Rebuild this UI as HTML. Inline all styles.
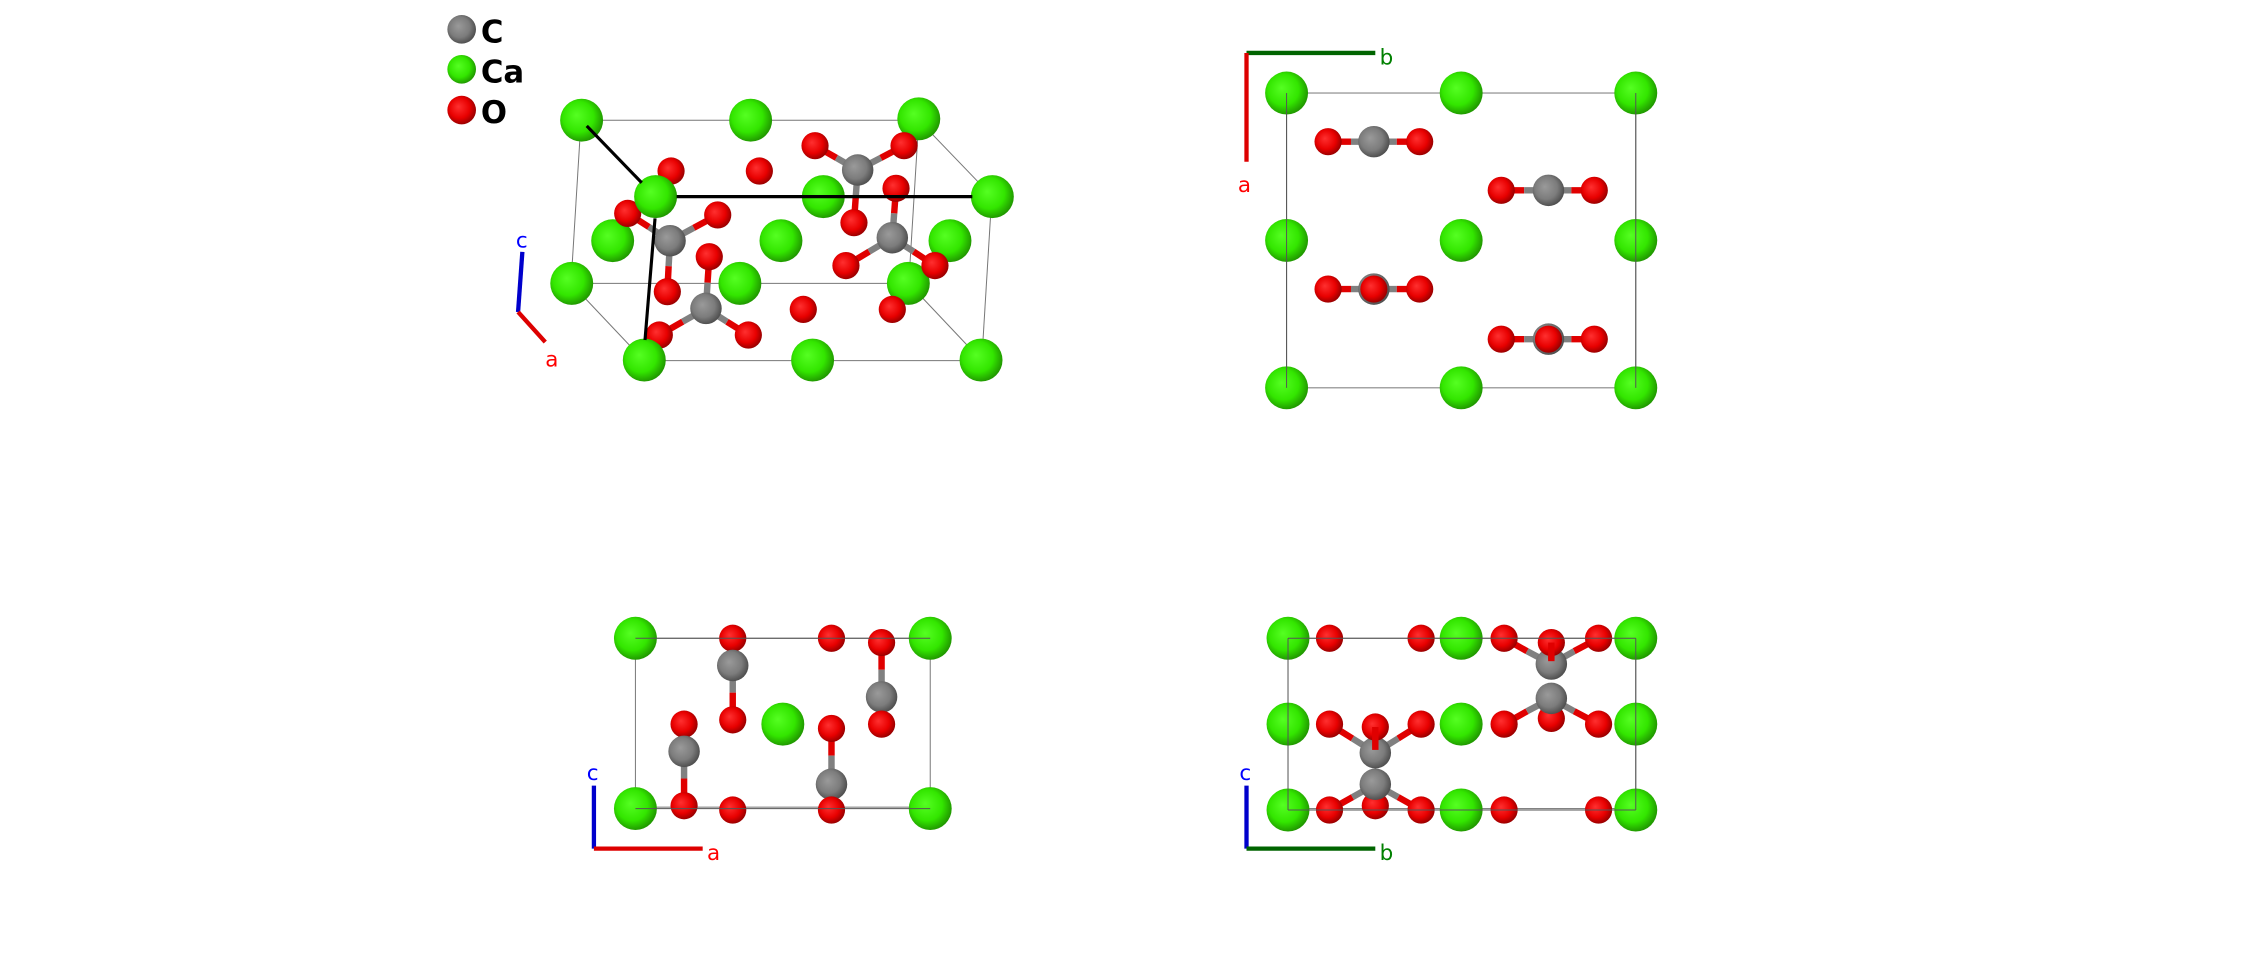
<!DOCTYPE html>
<html><head><meta charset="utf-8"><style>
html,body{margin:0;padding:0;background:#fff;}
svg{display:block;}
text{font-family:"DejaVu Sans","Liberation Sans",sans-serif;}
</style></head><body>
<svg width="2244" height="964" viewBox="0 0 1568 673.6" xmlns="http://www.w3.org/2000/svg">
<defs>
<radialGradient id="gCa" cx="45%" cy="45%" r="60%" fx="38%" fy="38%">
<stop offset="0" stop-color="#55ff22"/><stop offset="0.6" stop-color="#33e600"/><stop offset="1" stop-color="#1d8a00"/></radialGradient>
<radialGradient id="gO" cx="45%" cy="45%" r="60%" fx="38%" fy="38%">
<stop offset="0" stop-color="#ff3030"/><stop offset="0.6" stop-color="#e80000"/><stop offset="1" stop-color="#8a0000"/></radialGradient>
<radialGradient id="gC" cx="45%" cy="45%" r="60%" fx="38%" fy="38%">
<stop offset="0" stop-color="#9a9a9a"/><stop offset="0.6" stop-color="#7c7c7c"/><stop offset="1" stop-color="#464646"/></radialGradient>
</defs>
<style>
.ca{fill:url(#gCa);} .o{fill:url(#gO);} .c{fill:url(#gC);}
.cell{stroke:#777;stroke-width:0.7;fill:none;}
.bg{stroke:#808080;stroke-width:4.5;stroke-linecap:butt;}
.br{stroke:#e00000;stroke-width:4.5;stroke-linecap:butt;}
.blk{stroke:#000;stroke-width:2.2;}
</style>

<!-- Legend -->
<circle class="c" cx="322.6" cy="20.5" r="10"/>
<text x="336" y="29.8" font-size="21.5" font-weight="bold">C</text>
<circle class="ca" cx="322.6" cy="48.4" r="10"/>
<text x="336" y="57.8" font-size="21.5" font-weight="bold">Ca</text>
<circle class="o" cx="322.6" cy="76.9" r="10"/>
<text x="336" y="86" font-size="21.5" font-weight="bold">O</text>

<!-- Panel 1 -->
<g class="cell">
<line x1="406" y1="84" x2="642" y2="84"/>
<line x1="406" y1="84" x2="399" y2="198"/>
<line x1="642" y1="84" x2="635" y2="198"/>
<line x1="399" y1="198" x2="635" y2="198"/>
<line x1="458" y1="137" x2="693" y2="137"/>
<line x1="693" y1="137" x2="686" y2="252"/>
<line x1="450" y1="252" x2="686" y2="252"/>
<line x1="642" y1="84" x2="693" y2="137"/>
<line x1="399" y1="198" x2="450" y2="252"/>
<line x1="635" y1="198" x2="686" y2="252"/>
</g>
<circle class="ca" cx="406.4" cy="84" r="15"/>
<circle class="ca" cx="524.5" cy="84" r="15"/>
<circle class="ca" cx="642" cy="83" r="15"/>
<circle class="ca" cx="399.5" cy="198" r="15"/>
<circle class="ca" cx="517" cy="198" r="15"/>
<circle class="ca" cx="634.7" cy="198" r="15"/>
<circle class="ca" cx="428.1" cy="168.2" r="15"/>
<circle class="ca" cx="545.7" cy="168.2" r="15"/>
<circle class="ca" cx="663.8" cy="168.2" r="15"/>
<circle class="o" cx="468.9" cy="119.5" r="9.5"/>
<circle class="o" cx="530.6" cy="119.5" r="9.5"/>
<circle class="o" cx="561.3" cy="216.2" r="9.5"/>
<circle class="o" cx="623.5" cy="216.2" r="9.5"/>
<!-- carbonate 3 -->
<line class="bg" x1="599.3" y1="118.8" x2="584.4" y2="110.3"/><line class="br" x1="584.4" y1="110.3" x2="569.5" y2="101.8"/>
<line class="bg" x1="599.3" y1="118.8" x2="615.5" y2="110.3"/><line class="br" x1="615.5" y1="110.3" x2="631.7" y2="101.8"/>
<line class="bg" x1="599.3" y1="118.8" x2="598" y2="137"/><line class="br" x1="598" y1="137" x2="596.7" y2="155.6"/>
<circle class="o" cx="569.5" cy="101.8" r="9.5"/><circle class="o" cx="631.7" cy="101.8" r="9.5"/>
<circle class="o" cx="596.7" cy="155.6" r="9.5"/>
<circle class="c" cx="599.3" cy="118.8" r="11"/>
<!-- carbonate 4 -->
<line class="bg" x1="623.5" y1="166.1" x2="624.8" y2="149"/><line class="br" x1="624.8" y1="149" x2="626.1" y2="131.6"/>
<line class="bg" x1="623.5" y1="166.1" x2="607.3" y2="175.8"/><line class="br" x1="607.3" y1="175.8" x2="591.1" y2="185.6"/>
<line class="bg" x1="623.5" y1="166.1" x2="638.4" y2="175.8"/><line class="br" x1="638.4" y1="175.8" x2="653.3" y2="185.6"/>
<circle class="o" cx="626.1" cy="131.6" r="9.5"/>
<circle class="c" cx="623.5" cy="166.1" r="11"/>
<circle class="o" cx="591.1" cy="185.6" r="9.5"/><circle class="o" cx="653.3" cy="185.6" r="9.5"/>
<!-- carbonate 1 -->
<line class="bg" x1="468.2" y1="168.2" x2="453.4" y2="158.6"/><line class="br" x1="453.4" y1="158.6" x2="438.6" y2="149.1"/>
<line class="bg" x1="468.2" y1="168.2" x2="484.8" y2="159.2"/><line class="br" x1="484.8" y1="159.2" x2="501.5" y2="150.2"/>
<line class="bg" x1="468.2" y1="168.2" x2="467.2" y2="186"/><line class="br" x1="467.2" y1="186" x2="466.3" y2="203.8"/>
<circle class="o" cx="438.6" cy="149.1" r="9.5"/><circle class="o" cx="501.5" cy="150.2" r="9.5"/>
<circle class="c" cx="468.2" cy="168.2" r="11"/>
<circle class="o" cx="466.3" cy="203.8" r="9.5"/>
<!-- carbonate 2 -->
<line class="bg" x1="493.3" y1="215.5" x2="494.4" y2="197.5"/><line class="br" x1="494.4" y1="197.5" x2="495.6" y2="179.4"/>
<line class="bg" x1="493.3" y1="215.5" x2="477" y2="224.8"/><line class="br" x1="477" y1="224.8" x2="460.7" y2="234.1"/>
<line class="bg" x1="493.3" y1="215.5" x2="508" y2="224.8"/><line class="br" x1="508" y1="224.8" x2="522.9" y2="234.1"/>
<circle class="o" cx="495.6" cy="179.4" r="9.5"/>
<circle class="c" cx="493.3" cy="215.5" r="11"/>
<circle class="o" cx="460.7" cy="234.1" r="9.5"/><circle class="o" cx="522.9" cy="234.1" r="9.5"/>
<!-- front Ca -->
<circle class="ca" cx="458.1" cy="137.4" r="15"/>
<circle class="ca" cx="575.3" cy="137.4" r="15"/>
<circle class="ca" cx="693.4" cy="137.4" r="15"/>
<circle class="ca" cx="450.2" cy="251.6" r="15"/>
<circle class="ca" cx="567.8" cy="251.6" r="15"/>
<circle class="ca" cx="685.5" cy="251.6" r="15"/>
<g class="blk">
<line x1="410" y1="88" x2="448.4" y2="127.7"/>
<line x1="472.8" y1="137.4" x2="679.4" y2="137.4"/>
<line x1="457.7" y1="152.6" x2="450.7" y2="237.6"/>
</g>
<line x1="362" y1="218" x2="365" y2="176" stroke="#0000cc" stroke-width="3"/>
<line x1="362" y1="218" x2="381" y2="239" stroke="#dd0000" stroke-width="3"/>
<text x="360.5" y="173" font-size="15" fill="#0000ff">c</text>
<text x="381" y="256" font-size="15" fill="#ff0000">a</text>

<!-- Panel 2 -->
<rect class="cell" x="899" y="65" width="244" height="206"/>
<line x1="871" y1="37" x2="961" y2="37" stroke="#006400" stroke-width="3"/>
<line x1="871" y1="37" x2="871" y2="113" stroke="#dd0000" stroke-width="3"/>
<text x="964" y="45" font-size="15" fill="#008000">b</text>
<text x="865" y="134" font-size="15" fill="#ff0000">a</text>
<g>
<line class="br" x1="928" y1="99" x2="944" y2="99"/><line class="bg" x1="944" y1="99" x2="976" y2="99"/><line class="br" x1="976" y1="99" x2="992" y2="99"/>
<circle class="o" cx="928" cy="99" r="9.5"/><circle class="o" cx="992" cy="99" r="9.5"/><circle class="c" cx="960" cy="99" r="11"/>
<line class="br" x1="1049" y1="133" x2="1065" y2="133"/><line class="bg" x1="1065" y1="133" x2="1098" y2="133"/><line class="br" x1="1098" y1="133" x2="1114" y2="133"/>
<circle class="o" cx="1049" cy="133" r="9.5"/><circle class="o" cx="1114" cy="133" r="9.5"/><circle class="c" cx="1082" cy="133" r="11"/>
<line class="br" x1="928" y1="202" x2="944" y2="202"/><line class="bg" x1="944" y1="202" x2="976" y2="202"/><line class="br" x1="976" y1="202" x2="992" y2="202"/>
<circle class="o" cx="928" cy="202" r="9.5"/><circle class="o" cx="992" cy="202" r="9.5"/><circle class="c" cx="960" cy="202" r="11"/><circle class="o" cx="960" cy="202" r="9.5"/>
<line class="br" x1="1049" y1="237" x2="1065" y2="237"/><line class="bg" x1="1065" y1="237" x2="1098" y2="237"/><line class="br" x1="1098" y1="237" x2="1114" y2="237"/>
<circle class="o" cx="1049" cy="237" r="9.5"/><circle class="o" cx="1114" cy="237" r="9.5"/><circle class="c" cx="1082" cy="237" r="11"/><circle class="o" cx="1082" cy="237" r="9.5"/>
</g>
<circle class="ca" cx="899" cy="65" r="15"/><circle class="ca" cx="1021" cy="65" r="15"/><circle class="ca" cx="1143" cy="65" r="15"/>
<circle class="ca" cx="899" cy="168" r="15"/><circle class="ca" cx="1021" cy="168" r="15"/><circle class="ca" cx="1143" cy="168" r="15"/>
<circle class="ca" cx="899" cy="271" r="15"/><circle class="ca" cx="1021" cy="271" r="15"/><circle class="ca" cx="1143" cy="271" r="15"/>
<line x1="899" y1="65" x2="899" y2="271" stroke="#555" stroke-width="0.7"/>
<line x1="1143" y1="65" x2="1143" y2="271" stroke="#555" stroke-width="0.7"/>

<!-- Panel 3 -->
<rect class="cell" x="444" y="446" width="206" height="118"/>
<line x1="415" y1="593" x2="415" y2="549" stroke="#0000cc" stroke-width="3"/>
<line x1="415" y1="593" x2="491" y2="593" stroke="#dd0000" stroke-width="3"/>
<text x="410" y="545" font-size="15" fill="#0000ff">c</text>
<text x="494" y="601" font-size="15" fill="#ff0000">a</text>
<circle class="ca" cx="444" cy="446" r="15"/><circle class="ca" cx="650" cy="446" r="15"/>
<circle class="ca" cx="547" cy="506" r="15"/>
<circle class="ca" cx="444" cy="565" r="15"/><circle class="ca" cx="650" cy="565" r="15"/>
<!-- group A -->
<line class="bg" x1="512" y1="465" x2="512" y2="484"/><line class="br" x1="512" y1="484" x2="512" y2="503"/>
<circle class="o" cx="512" cy="503" r="9.5"/>
<circle class="o" cx="512" cy="446" r="9.5"/>
<circle class="c" cx="512" cy="465" r="11"/>
<circle class="o" cx="581" cy="446" r="9.5"/>
<!-- group B -->
<line class="br" x1="616" y1="449" x2="616" y2="468"/><line class="bg" x1="616" y1="468" x2="616" y2="487"/>
<circle class="o" cx="616" cy="449" r="9.5"/>
<circle class="c" cx="616" cy="487" r="11"/>
<circle class="o" cx="616" cy="506" r="9.5"/>
<!-- group C -->
<line class="bg" x1="478" y1="525" x2="478" y2="544"/><line class="br" x1="478" y1="544" x2="478" y2="563"/>
<circle class="o" cx="478" cy="506" r="9.5"/>
<circle class="c" cx="478" cy="525" r="11"/>
<circle class="o" cx="478" cy="563" r="9.5"/>
<!-- group D -->
<line class="br" x1="581" y1="509" x2="581" y2="528"/><line class="bg" x1="581" y1="528" x2="581" y2="548"/>
<circle class="o" cx="581" cy="509" r="9.5"/>
<circle class="c" cx="581" cy="548" r="11"/>
<circle class="o" cx="581" cy="566" r="9.5"/>
<circle class="o" cx="512" cy="566" r="9.5"/>
<line x1="444" y1="446" x2="650" y2="446" stroke="#555" stroke-width="0.7"/>
<line x1="444" y1="565" x2="650" y2="565" stroke="#555" stroke-width="0.7"/>

<!-- Panel 4 -->
<rect class="cell" x="900" y="446" width="243" height="119"/>
<line x1="871" y1="593" x2="871" y2="549" stroke="#0000cc" stroke-width="3"/>
<line x1="871" y1="593" x2="961" y2="593" stroke="#006400" stroke-width="3"/>
<text x="866" y="545" font-size="15" fill="#0000ff">c</text>
<text x="964" y="601" font-size="15" fill="#008000">b</text>
<circle class="ca" cx="900" cy="446" r="15"/><circle class="ca" cx="1021" cy="446" r="15"/><circle class="ca" cx="1143" cy="446" r="15"/>
<circle class="ca" cx="900" cy="506" r="15"/><circle class="ca" cx="1021" cy="506" r="15"/><circle class="ca" cx="1143" cy="506" r="15"/>
<circle class="ca" cx="900" cy="566" r="15"/><circle class="ca" cx="1021" cy="566" r="15"/><circle class="ca" cx="1143" cy="566" r="15"/>
<circle class="o" cx="929" cy="446" r="9.5"/><circle class="o" cx="993" cy="446" r="9.5"/>
<circle class="o" cx="1051" cy="566" r="9.5"/><circle class="o" cx="1117" cy="566" r="9.5"/>
<!-- upper right group -->
<line class="bg" x1="1084" y1="464" x2="1067" y2="455"/><line class="br" x1="1067" y1="455" x2="1051" y2="446"/>
<line class="bg" x1="1084" y1="464" x2="1100" y2="455"/><line class="br" x1="1100" y1="455" x2="1117" y2="446"/>
<circle class="o" cx="1051" cy="446" r="9.5"/><circle class="o" cx="1117" cy="446" r="9.5"/>
<circle class="c" cx="1084" cy="464" r="11"/>
<line class="br" x1="1084" y1="449" x2="1084" y2="461"/>
<circle class="o" cx="1084" cy="449" r="9.5"/>
<line class="br" x1="1084" y1="449" x2="1084" y2="462"/>
<line class="bg" x1="1084" y1="488" x2="1067" y2="497"/><line class="br" x1="1067" y1="497" x2="1051" y2="506"/>
<line class="bg" x1="1084" y1="488" x2="1100" y2="497"/><line class="br" x1="1100" y1="497" x2="1117" y2="506"/>
<circle class="o" cx="1084" cy="502" r="9.5"/>
<circle class="o" cx="1051" cy="506" r="9.5"/><circle class="o" cx="1117" cy="506" r="9.5"/>
<circle class="c" cx="1084" cy="488" r="11"/>
<!-- lower left group -->
<line class="bg" x1="961" y1="526" x2="945" y2="516"/><line class="br" x1="945" y1="516" x2="929" y2="506"/>
<line class="bg" x1="961" y1="526" x2="977" y2="516"/><line class="br" x1="977" y1="516" x2="993" y2="506"/>
<circle class="o" cx="929" cy="506" r="9.5"/><circle class="o" cx="993" cy="506" r="9.5"/>
<circle class="c" cx="961" cy="526" r="11"/>
<circle class="o" cx="961" cy="508" r="9.5"/>
<line class="br" x1="961" y1="508" x2="961" y2="524"/>
<line class="bg" x1="961" y1="548" x2="945" y2="557"/><line class="br" x1="945" y1="557" x2="929" y2="566"/>
<line class="bg" x1="961" y1="548" x2="977" y2="557"/><line class="br" x1="977" y1="557" x2="993" y2="566"/>
<circle class="o" cx="961" cy="563" r="9.5"/>
<circle class="o" cx="929" cy="566" r="9.5"/><circle class="o" cx="993" cy="566" r="9.5"/>
<circle class="c" cx="961" cy="548" r="11"/>
<line x1="900" y1="446" x2="1143" y2="446" stroke="#555" stroke-width="0.7"/>
<line x1="900" y1="566" x2="1143" y2="566" stroke="#555" stroke-width="0.7"/>
<line x1="900" y1="446" x2="900" y2="566" stroke="#555" stroke-width="0.7"/>
<line x1="1143" y1="446" x2="1143" y2="566" stroke="#555" stroke-width="0.7"/>
</svg>
</body></html>
